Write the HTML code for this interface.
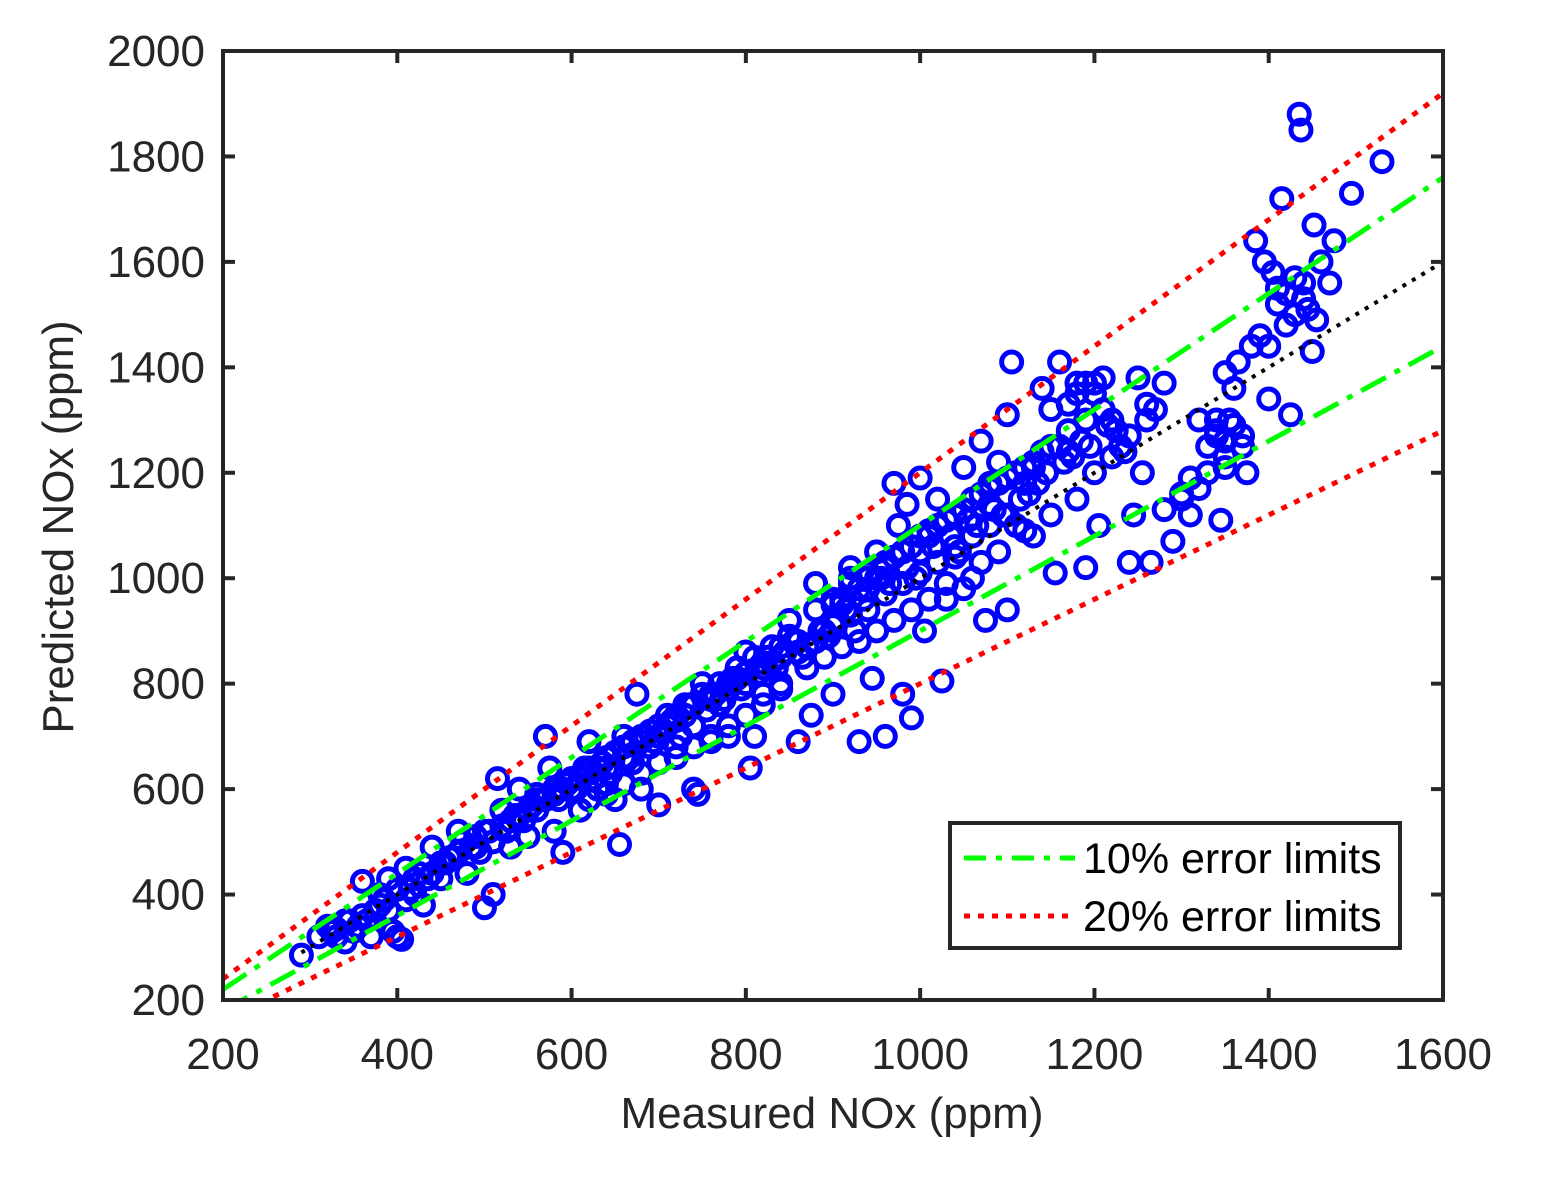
<!DOCTYPE html>
<html><head><meta charset="utf-8"><style>
body{margin:0;background:#fff;}
svg text{font-family:"Liberation Sans",Arial,sans-serif;fill:#262626;}
</style></head><body>
<svg id="chart" width="1545" height="1180" xmlns="http://www.w3.org/2000/svg">
<defs><clipPath id="plotclip"><rect x="223" y="51" width="1220" height="949"/></clipPath></defs>
<rect x="0" y="0" width="1545" height="1180" fill="#fff"/>
<g id="lines" clip-path="url(#plotclip)"></g>
<g id="points"></g>
<g id="axes"></g>
<g id="legend">
<rect x="950" y="823" width="450" height="125" fill="#fff" stroke="#262626" stroke-width="4"/>
<line x1="964" y1="858" x2="1075" y2="858" stroke="#00ff00" stroke-width="5" stroke-dasharray="22,10,6,10"/>
<text x="1083" y="873" font-size="43" style="fill:#000">10% error limits</text>
<line x1="964" y1="916" x2="1075" y2="916" stroke="#ff0000" stroke-width="5" stroke-dasharray="6,8"/>
<text x="1083" y="931" font-size="43" style="fill:#000">20% error limits</text>
</g>
<text x="832" y="1128" font-size="44" text-anchor="middle">Measured NOx (ppm)</text>
<text x="73" y="527" font-size="44" text-anchor="middle" transform="rotate(-90 73 527)">Predicted NOx (ppm)</text>
</svg>
<script>
const xTicks=[200,400,600,800,1000,1200,1400,1600];
const yTicks=[200,400,600,800,1000,1200,1400,1600,1800,2000];
const measured=[290,320,330,340,350,360,365,370,380,390,395,400,405,410,420,430,440,450,460,470,480,490,500,510,515,520,530,540,550,560,570,575,580,590,600,610,620,630,640,650,655,660,670,675,680,690,700,710,720,730,740,745,750,760,770,780,790,800,805,810,820,830,840,850,860,870,875,880,890,900,910,920,930,940,945,950,960,970,975,980,985,990,995,1000,1005,1010,1020,1025,1030,1040,1050,1060,1070,1075,1080,1090,1100,1100,1105,1110,1120,1130,1140,1150,1155,1160,1170,1180,1190,1200,1205,1210,1220,1230,1240,1245,1250,1255,1260,1265,1270,1280,1290,1300,1310,1320,1330,1340,1345,1350,1355,1360,1365,1370,1375,1380,1385,1390,1395,1400,1405,1410,1415,1420,1425,1430,1435,1437,1440,1445,1450,1452,1455,1460,1470,1475,1495,1530,
600,620,640,660,680,700,720,740,760,780,800,820,840,860,880,900,920,940,960,980,1000,1020,1040,1060,1080,1100,1000,1020,1040,1060,1080,1110,1130,1150,1170,1190,1210,990,1010,1030,1050,1070,1090,1120,1150,1180,1200,1220,1240,1260,880,900,920,940,960,870,890,910,930,950,970,500,520,540,560,580,450,470,490,510,530,550,570,590,610,630,650,670,690,710,730,750,770,790,810,830,850,700,720,740,760,780,800,820,840,620,640,660,680,1330,1340,1350,1360,1370,1340,1350,1420,1430,1440,1410,1400,1190,1200,1170,1180,1350,1300,1320,1280,1310,360,380,400,420,440,330,340,390,410,
310,325,345,355,375,385,415,425,435,455,465,475,485,495,505,525,535,545,555,565,585,595,605,615,625,635,645,665,685,695,705,715,725,735,755,765,775,785,795,815,825,835,845,855,865,885,895,905,915,925,935,955,965,985,1015,1035,1045,1055,1065,1085,1095,1115,1125,1135,1145,1165,1175,1185,1195,1215,1225,1235,
900,910,920,930,940,950,960,970,980,990,1000,1010,1020,1030,1040,1050,1060,1070,1080,1090,1100,1110,1120,1130,1140,1160,
560,580,600,620,640,660,680,700,720,740,760,780,800,820,840,860];
const predicted=[285,340,320,310,330,425,350,320,400,430,330,320,315,450,400,380,490,430,470,520,440,510,375,400,620,560,490,600,510,560,700,640,520,480,620,560,690,600,640,580,495,700,650,780,600,680,570,720,680,740,600,590,800,700,760,720,830,860,640,700,780,840,800,920,690,870,740,990,900,780,950,1020,690,980,810,1050,700,1180,1100,780,1140,735,1000,1190,900,1080,1150,805,960,1040,1210,1000,1260,920,1140,1220,1310,940,1410,1100,1180,1080,1360,1320,1010,1410,1240,1350,1020,1370,1100,1380,1300,1250,1030,1120,1380,1200,1330,1030,1320,1370,1070,1160,1120,1300,1200,1280,1110,1390,1300,1360,1410,1250,1200,1440,1640,1460,1600,1340,1580,1520,1720,1540,1310,1570,1880,1850,1560,1510,1430,1670,1490,1600,1560,1640,1730,1790,
600,630,610,660,690,700,730,720,770,790,800,830,850,860,880,910,930,940,970,990,1010,1030,1060,1080,1100,1120,1050,1100,1120,1150,1180,1200,1210,1250,1280,1300,1320,940,960,990,980,1030,1050,1090,1120,1150,1200,1230,1270,1300,940,960,990,1000,1030,830,850,870,880,900,920,520,530,550,580,590,460,480,490,500,540,560,580,600,620,640,670,690,710,740,760,780,800,810,850,870,890,650,660,680,690,700,740,760,790,580,590,610,630,1250,1270,1260,1290,1270,1300,1230,1480,1500,1530,1550,1440,1370,1350,1330,1370,1210,1150,1170,1130,1190,360,380,410,430,440,335,350,370,390,
320,330,350,340,370,390,410,440,430,460,470,500,490,480,520,520,550,540,570,580,580,610,600,640,620,650,630,660,700,690,710,730,700,760,750,780,770,810,790,820,850,830,860,880,850,900,890,920,940,900,960,1000,990,1020,1060,1080,1050,1110,1100,1130,1120,1150,1160,1180,1200,1220,1230,1260,1250,1290,1280,1240,
950,960,1000,980,1010,1000,1020,1040,1050,1060,1080,1090,1100,1110,1120,1130,1150,1160,1170,1180,1190,1200,1210,1220,1240,1250,
590,600,620,640,660,680,700,720,740,760,780,800,820,840,870,880];
const refSlopes=[1.0,1.1,0.9,1.2,0.8];
const NS='http://www.w3.org/2000/svg';
const X0=223,X1=1443,Y0=1000,Y1=51;
const sx=v=>X0+(v-200)/1400*(X1-X0);
const sy=v=>Y0-(v-200)/1800*(Y0-Y1);
function mk(tag,attrs,parent){const e=document.createElementNS(NS,tag);for(const k in attrs)e.setAttribute(k,attrs[k]);parent.appendChild(e);return e;}
const lines=document.getElementById('lines');
const styles={1.0:['#000','4,7'],1.1:['#00ff00','28,10,6,10'],0.9:['#00ff00','28,10,6,10'],1.2:['#ff0000','6,8'],0.8:['#ff0000','6,8']};
const pts=document.getElementById('points');
measured.forEach((m,i)=>{
  const c=mk('circle',{cx:sx(m),cy:sy(predicted[i]),r:10,fill:'none',stroke:'#0000ff','stroke-width':5},pts);
  
  
});
refSlopes.forEach(s=>{
  const x0=s===1.0?290:200,x1=1600;
  const l=mk('line',{x1:sx(x0),y1:sy(s*x0),x2:sx(x1),y2:sy(s*x1),stroke:styles[s][0],'stroke-width':s===1.0?4:5,'stroke-dasharray':styles[s][1]},lines);
  
  
});
document.getElementById('chart').appendChild(lines);
document.getElementById('chart').appendChild(document.getElementById('axes'));
document.getElementById('chart').appendChild(document.getElementById('legend'));
const ax=document.getElementById('axes');
const box=mk('rect',{x:X0,y:Y1,width:X1-X0,height:Y0-Y1,fill:'none',stroke:'#262626','stroke-width':4},ax);


xTicks.forEach(t=>{
  const x=sx(t);
  mk('line',{x1:x,y1:Y0,x2:x,y2:Y0-12,stroke:'#262626','stroke-width':4},ax);
  mk('line',{x1:x,y1:Y1,x2:x,y2:Y1+12,stroke:'#262626','stroke-width':4},ax);
  const tx=mk('text',{x:x,y:1069,'font-size':44,'text-anchor':'middle'},ax);
  tx.textContent=t;
  
  
});
yTicks.forEach(t=>{
  const y=sy(t);
  mk('line',{x1:X0,y1:y,x2:X0+12,y2:y,stroke:'#262626','stroke-width':4},ax);
  mk('line',{x1:X1,y1:y,x2:X1-12,y2:y,stroke:'#262626','stroke-width':4},ax);
  const tx=mk('text',{x:205,y:y+15,'font-size':44,'text-anchor':'end'},ax);
  tx.textContent=t;
  
  
});
</script>
</body></html>
